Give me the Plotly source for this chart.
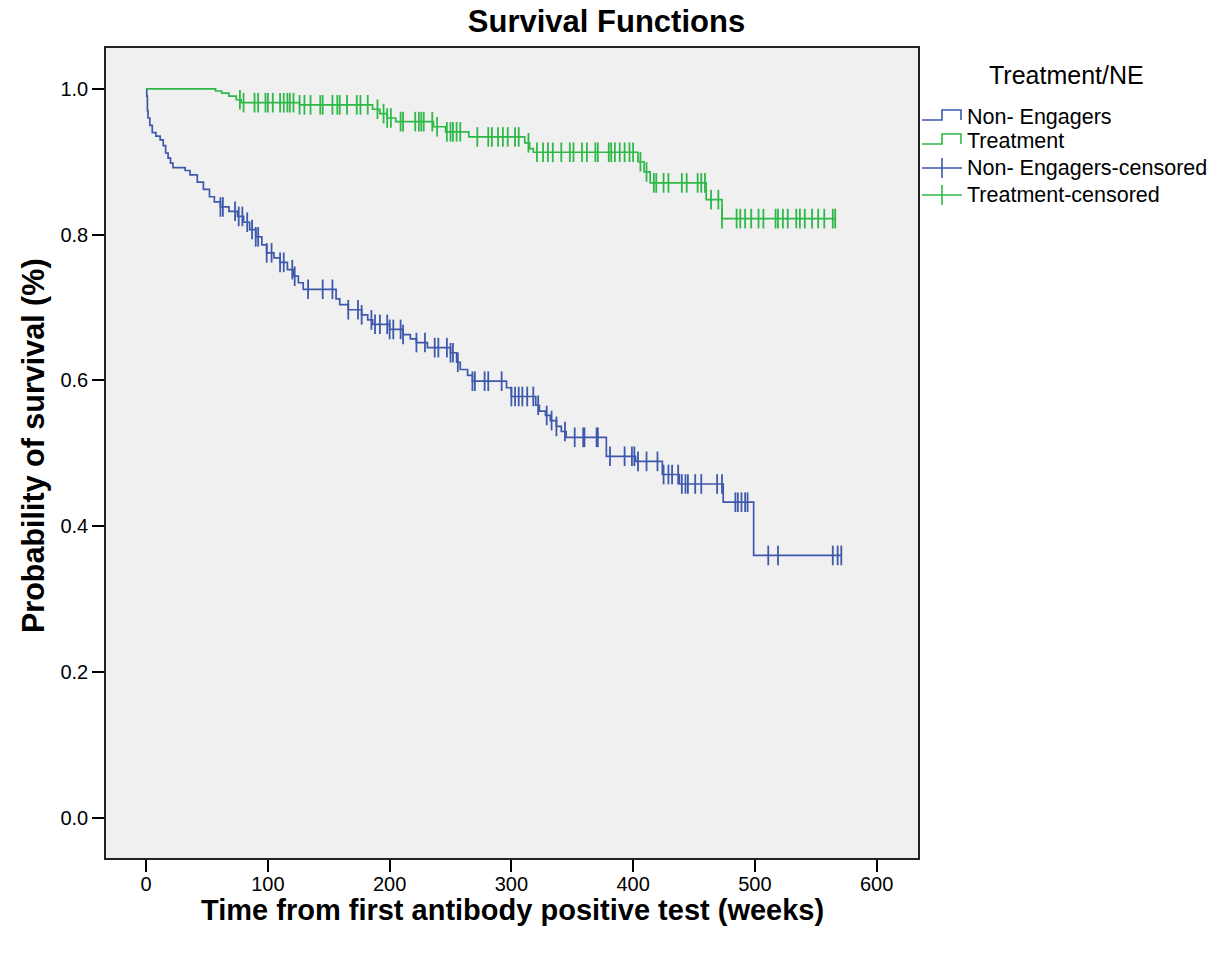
import numpy as np
import plotly.graph_objects as go

# ---------------- data ----------------
# Non-Engagers: step times (weeks) and survival after each step
ne_times = [0, 0.5, 1, 1.5, 3, 5, 8, 11.5, 14, 16, 18, 20, 22, 32, 36, 42, 47, 52, 56, 61,
            68, 75, 80, 85, 90, 95, 99, 105, 110, 116, 121, 125, 129, 156, 159, 166, 177,
            182, 186, 200, 211, 217, 222, 231, 250, 255, 258, 264, 268, 296, 300, 320, 323,
            328, 332, 337, 341, 345, 378, 402, 424, 438, 474, 499]
ne_surv = [1.0, 0.99, 0.97, 0.96, 0.95, 0.94, 0.935, 0.93, 0.922, 0.912, 0.905, 0.898, 0.892,
           0.888, 0.882, 0.872, 0.862, 0.852, 0.845, 0.838, 0.832, 0.825, 0.817, 0.807, 0.797,
           0.786, 0.775, 0.768, 0.762, 0.752, 0.743, 0.734, 0.725, 0.712, 0.704, 0.697, 0.690,
           0.683, 0.677, 0.670, 0.663, 0.657, 0.652, 0.645, 0.638, 0.625, 0.615, 0.607, 0.599,
           0.590, 0.578, 0.566, 0.558, 0.552, 0.545, 0.537, 0.530, 0.522, 0.496, 0.489, 0.471,
           0.458, 0.433, 0.360]
ne_censored = [61, 63, 73, 76, 79, 83, 87, 90, 92, 99, 103, 110, 113, 120, 122, 133, 145, 153,
               166, 174, 177, 185, 188, 192, 198, 200, 203, 209, 211, 222, 229, 237, 240, 247,
               250, 252, 256, 268, 270, 278, 281, 292, 300, 303, 306, 309, 313, 318, 322, 329,
               333, 337, 344, 352, 359, 360, 370, 371, 381, 393, 399, 401, 404, 411, 420, 425,
               429, 432, 437, 440, 443, 445, 451, 456, 469, 473, 484, 486, 489, 492, 494, 511,
               519, 564, 568, 571]

# Treatment
tr_times = [0, 57, 62, 68, 74, 78, 126, 186, 192, 198, 205, 236, 246, 265, 311, 315, 318,
            404, 409, 414, 460, 473]
tr_surv = [1.0, 0.997, 0.994, 0.990, 0.985, 0.981, 0.978, 0.972, 0.966, 0.960, 0.955, 0.948,
           0.941, 0.934, 0.926, 0.918, 0.913, 0.900, 0.886, 0.871, 0.848, 0.822]
tr_censored = [77, 80, 89, 92, 98, 100, 104, 110, 113, 116, 118, 121, 126, 130, 135, 143, 145,
               153, 157, 159, 165, 173, 176, 182, 190, 195, 198, 201, 209, 211, 221, 224, 226,
               228, 235, 239, 247, 250, 252, 255, 258, 272, 281, 284, 289, 293, 297, 303, 306,
               314, 321, 326, 330, 334, 341, 348, 351, 358, 362, 369, 371, 380, 382, 385, 389,
               393, 397, 400, 406, 411, 417, 419, 425, 429, 440, 444, 453, 456, 459, 464, 470,
               473, 485, 488, 492, 497, 503, 507, 517, 519, 523, 527, 534, 537, 541, 547, 552,
               557, 564, 566]

x_ticks = [0, 100, 200, 300, 400, 500, 600]
y_ticks = [0.0, 0.2, 0.4, 0.6, 0.8, 1.0]
y_tick_labels = ["0.0", "0.2", "0.4", "0.6", "0.8", "1.0"]

chart_title = "Survival Functions"
x_title = "Time from first antibody positive test (weeks)"
y_title = "Probability of survival (%)"
legend_title = "Treatment/NE"
legend_labels = ["Non- Engagers", "Treatment", "Non- Engagers-censored", "Treatment-censored"]

BLUE = "#3e58ac"
GREEN = "#2eb848"
legend_colors = [BLUE, GREEN, BLUE, GREEN]
legend_kinds = ["step", "step", "censor", "censor"]

FONT = "Liberation Sans, Arial, sans-serif"

# figure geometry (pixels)
W, H = 1228, 953
ML, MR, MT, MB = 106, 310, 48, 95
PW, PH = W - ML - MR, H - MT - MB


def km_line(times, surv, censored):
    last = max(censored)
    return list(times) + [last], list(surv) + [surv[-1]]


def censor_levels(times, surv, censored):
    t = np.asarray(times, dtype=float)
    s = np.asarray(surv, dtype=float)
    idx = np.searchsorted(t, np.asarray(censored, dtype=float), side="right") - 1
    return s[idx]


def px(xp):
    return (xp - ML) / PW


def py(yp):
    return (H - MB - yp) / PH


fig = go.Figure()

for name, times, surv, cens, col in [
    ("Non- Engagers", ne_times, ne_surv, ne_censored, BLUE),
    ("Treatment", tr_times, tr_surv, tr_censored, GREEN),
]:
    xs, ys = km_line(times, surv, cens)
    fig.add_trace(go.Scatter(x=xs, y=ys, mode="lines", line=dict(color=col, width=1.7, shape="hv"),
                             name=name, showlegend=False, hoverinfo="skip"))

for name, times, surv, cens, col in [
    ("Non- Engagers-censored", ne_times, ne_surv, ne_censored, BLUE),
    ("Treatment-censored", tr_times, tr_surv, tr_censored, GREEN),
]:
    fig.add_trace(go.Scatter(x=cens, y=censor_levels(times, surv, cens), mode="markers",
                             name=name,
                             marker=dict(symbol="line-ns", size=14, color=col,
                                         line=dict(width=1.8, color=col)),
                             showlegend=False, hoverinfo="skip"))

# ---- legend drawn by hand (title, step icons, censor icons, labels) ----
shapes = []
annotations = []
row_y = [117, 141, 168, 195]
annotations.append(dict(text=legend_title, x=px(1066), y=py(75), xref="paper", yref="paper",
                        xanchor="center", yanchor="middle", showarrow=False,
                        font=dict(size=25, family=FONT, color="black")))
for lab, col, kind, ry in zip(legend_labels, legend_colors, legend_kinds, row_y):
    if kind == "step":
        pts = [(922, ry + 3), (942, ry + 3), (942, ry - 7), (961, ry - 7), (961, ry + 3)]
        path = "M " + " L ".join(f"{px(a)},{py(b)}" for a, b in pts)
        shapes.append(dict(type="path", path=path, xref="paper", yref="paper",
                           line=dict(color=col, width=1.6)))
    else:
        shapes.append(dict(type="line", x0=px(922), x1=px(962), y0=py(ry), y1=py(ry),
                           xref="paper", yref="paper", line=dict(color=col, width=1.6)))
        shapes.append(dict(type="line", x0=px(942), x1=px(942), y0=py(ry - 10), y1=py(ry + 10),
                           xref="paper", yref="paper", line=dict(color=col, width=1.6)))
    annotations.append(dict(text=lab, x=px(965), y=py(ry), xref="paper", yref="paper",
                            xanchor="left", yanchor="middle", showarrow=False,
                            font=dict(size=21.5, family=FONT, color="black")))

# axis titles placed as annotations for exact positioning
annotations.append(dict(text=f"<b>{x_title}</b>", x=px(512.5), y=py(910), xref="paper",
                        yref="paper", xanchor="center", yanchor="middle", showarrow=False,
                        font=dict(size=29, family=FONT, color="black")))
annotations.append(dict(text=f"<b>{y_title}</b>", x=px(33), y=py(446), xref="paper",
                        yref="paper", xanchor="center", yanchor="middle", showarrow=False,
                        textangle=-90, font=dict(size=30.5, family=FONT, color="black")))

fig.update_layout(
    width=W, height=H,
    margin=dict(l=ML, r=MR, t=MT, b=MB, autoexpand=False),
    plot_bgcolor="#f0f0f0", paper_bgcolor="white",
    font=dict(family=FONT, color="black"),
    title=dict(text=f"<b>{chart_title}</b>", x=606.5 / W, xanchor="center", xref="container",
               y=1 - 21 / H, yanchor="middle", yref="container",
               font=dict(size=31, family=FONT, color="black")),
    showlegend=False,
    shapes=shapes,
    annotations=annotations,
    xaxis=dict(range=[-33, 634], tickvals=x_ticks, ticks="outside", ticklen=12, tickwidth=1.5,
               tickcolor="black", showgrid=False, zeroline=False, showline=True, mirror=True,
               linecolor="#222", linewidth=1.5, tickfont=dict(size=20), automargin=False,
               ticklabelstandoff=-5),
    yaxis=dict(range=[-0.055, 1.056], tickvals=y_ticks, ticktext=y_tick_labels, ticks="outside",
               ticklen=12, tickwidth=1.5, tickcolor="black", showgrid=False, zeroline=False,
               showline=True, mirror=True, linecolor="#222", linewidth=1.5,
               tickfont=dict(size=20), automargin=False),
)

fig.write_html("out.html", config={"displayModeBar": False},
               post_script="document.body.style.margin='0px';")
